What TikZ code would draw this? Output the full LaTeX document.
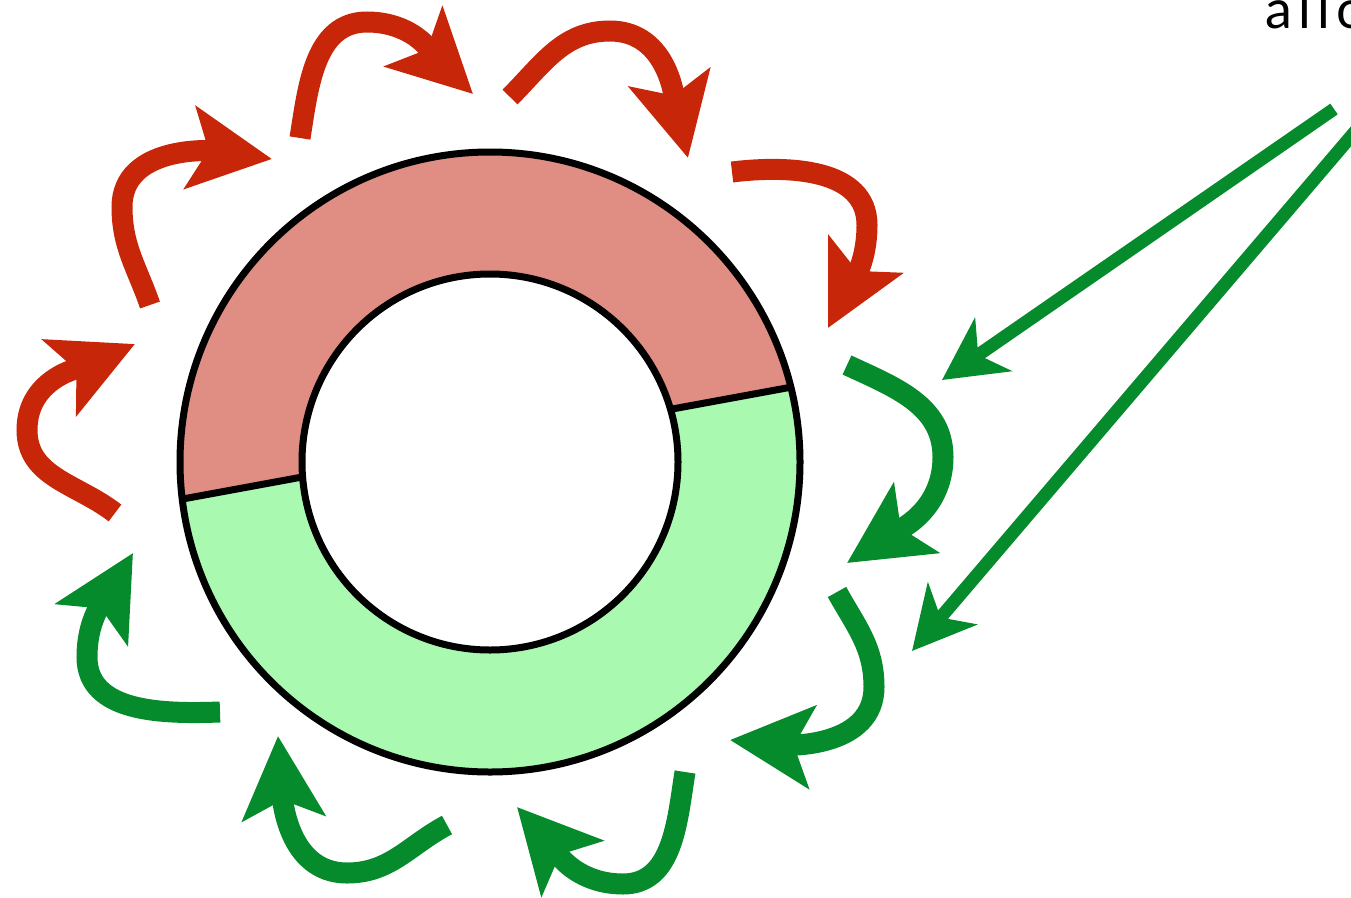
\documentclass[tikz,border=0pt]{standalone}
\usepackage{fontspec}
\newfontfamily\labelfont[LetterSpace=12]{Lato}
\usepackage{tikz}
\usetikzlibrary{arrows.meta}
\definecolor{ringred}{RGB}{224,142,132}
\definecolor{ringgreen}{RGB}{169,249,177}
\definecolor{arrred}{RGB}{200,38,8}
\definecolor{arrgreen}{RGB}{5,138,44}

\begin{document}
\begin{tikzpicture}[x=1pt,y=1pt,
  hop/.style={line width=21pt,-{Stealth[length=82pt,width=82pt,inset=18pt]}},
  pointer/.style={line width=13pt,arrgreen,-{Stealth[length=62pt,width=64pt,inset=18pt]}}]
  \useasboundingbox (0,0) rectangle (1351,-897);
  % ring, split by a chord
  \fill[ringgreen] (490,-462) circle (310);
  \begin{scope}
    \clip (490,-462) circle (310);
    \fill[ringred] (150,-505) -- (830,-380) -- (830,-100) -- (150,-100) -- cycle;
    \draw[line width=7pt] (150,-505) -- (830,-380);
  \end{scope}
  \draw[line width=7pt,fill=white] (490,-462) circle (188);
  \draw[line width=7pt] (490,-462) circle (310);
  % red arrows
  \draw[hop,arrred] (115,-513) to[out=142,in=270] (27,-430) to[out=90,in=204] (135,-344);
  \draw[hop,arrred] (150,-305) to[out=109,in=270] (122,-207) to[out=90,in=172] (272,-159);
  \draw[hop,arrred] (300,-138) to[out=81,in=180] (367,-22) to[out=0,in=136] (473,-94);
  \draw[hop,arrred] (510,-97) to[out=45,in=180] (610,-31) to[out=0,in=103] (688,-158);
  \draw[hop,arrred] (732,-172) to[out=7,in=90] (867,-225) to[out=270,in=63] (828,-328);
  % green arrows
  \draw[hop,arrgreen] (847,-365) to[out=-25,in=90] (943,-457) to[out=270,in=33] (847,-563);
  \draw[hop,arrgreen] (837,-592) to[out=-61,in=90] (874,-687) to[out=270,in=-5] (730,-740);
  \draw[hop,arrgreen] (685,-772) to[out=-99,in=0] (623,-884) to[out=180,in=-48] (517,-807);
  \draw[hop,arrgreen] (447,-825) to[out=208,in=0] (347,-873) to[out=180,in=274] (278,-736);
  \draw[hop,arrgreen] (220,-712) to[out=182,in=270] (87,-657) to[out=90,in=240] (133,-553);
  % label and pointers
  \node[font=\labelfont\fontsize{54}{64}\selectfont,anchor=base west,inner sep=0] (label) at (1265,-28) {allo};
  \coordinate (src1) at (1334,-109);
  \coordinate (src2) at (1382,-100);
  \coordinate (dst1) at (942,-380);
  \coordinate (dst2) at (912,-651);
  \draw[pointer] (src1) -- (dst1);
  \draw[pointer] (src2) -- (dst2);
\end{tikzpicture}
\end{document}
